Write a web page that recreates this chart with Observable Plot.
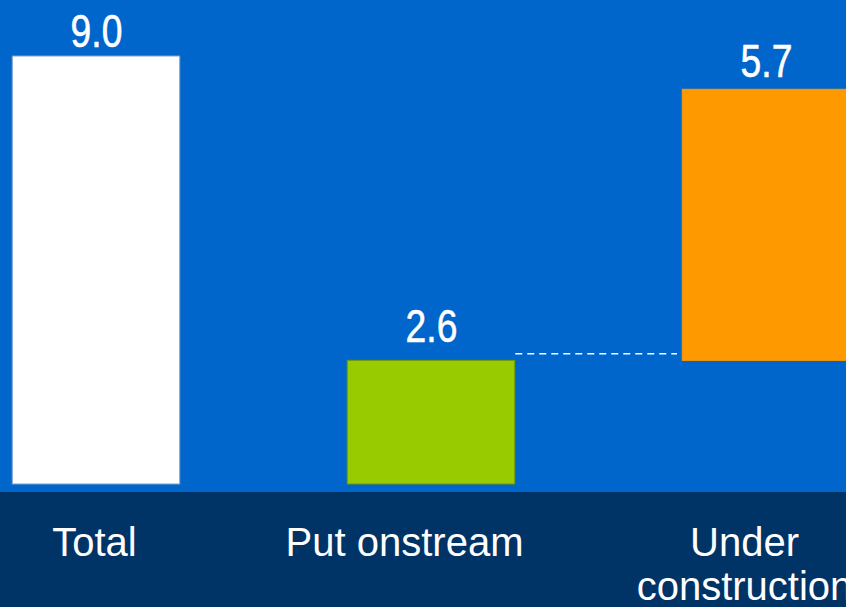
<!DOCTYPE html>
<html>
<head>
<meta charset="utf-8">
<script src="https://cdn.jsdelivr.net/npm/d3@7"></script>
<script src="https://cdn.jsdelivr.net/npm/@observablehq/plot@0.6"></script>
<style>
  html, body { margin: 0; padding: 0; overflow: hidden; background: #0066CC; }
  #chart svg { display: block; }
  #chart text { font-family: "Liberation Sans", Arial, sans-serif !important; }
</style>
</head>
<body>
<div id="chart"></div>
<script>
// ---- data ----
const categories = ["Total", "Put onstream", "Under construction"];
const values = [9.0, 2.6, 5.7];
const bases = [0, 0, 2.6];           // waterfall start of each bar
const valueLabels = ["9.0", "2.6", "5.7"];
const connectorLevel = 2.75;          // dashed connector between bar 2 and bar 3

// ---- styling ----
const fills = ["#FFFFFF", "#99CC00", "#FF9900"];
const strokes = ["#7f9fc9", "#6f9a00", "#FF9900"];

const rows = categories.map((c, i) => ({
  i, category: c, base: bases[i], top: bases[i] + values[i],
  fill: fills[i], stroke: strokes[i], label: valueLabels[i]
}));
const connector = [{from: 1, to: 2, level: connectorLevel}];

const half = 0.25;
// the captions and value labels in the reference are placed slightly irregularly
const captionShift = {"Total": -2, "Put onstream": -27, "Under construction": -22};
const labelLift = {"Total": -10, "Put onstream": -19, "Under construction": -13};

const chart = Plot.plot({
  width: 846,
  height: 607,
  marginTop: 56,
  marginBottom: 123,
  marginLeft: 0,
  marginRight: 0,
  style: {
    background: "linear-gradient(to bottom, #0066CC 0px, #0066CC 492px, #003366 492px, #003366 607px)",
    overflow: "hidden",
    color: "white"
  },
  x: {domain: [-96 / 335, 750 / 335], axis: null},
  y: {domain: [0, 9], axis: null},
  marks: [
    Plot.rectY(rows, {
      x1: d => d.i - half, x2: d => d.i + half,
      y1: "base", y2: "top",
      fill: d => d.fill, stroke: d => d.stroke, strokeWidth: 1
    }),
    Plot.link(connector, {
      x1: d => d.from + half, x2: d => d.to - half - 0.017,
      y1: "level", y2: "level",
      stroke: "white", strokeWidth: 1.5, strokeDasharray: "7,5"
    }),
    ...rows.map(r => Plot.text([r], {
      x: "i", y: "top", text: "label",
      lineAnchor: "bottom", dy: labelLift[r.category],
      fill: "white", stroke: "white", strokeWidth: 0.6,
      fontSize: 46, className: "vlabel"
    })),
    ...rows.map(r => Plot.text([r], {
      x: "i", y: d => 0, text: "category",
      lineAnchor: "top", dy: 40, dx: captionShift[r.category],
      lineWidth: 7, lineHeight: 1.1,
      fill: "white", fontSize: 40
    }))
  ]
});
document.getElementById("chart").appendChild(chart);
// condensed look of the value labels (reference uses a narrow face)
chart.querySelectorAll(".vlabel text").forEach(t => {
  const w = t.getComputedTextLength();
  t.setAttribute("textLength", (w * 0.81).toFixed(1));
  t.setAttribute("lengthAdjust", "spacingAndGlyphs");
});
</script>
</body>
</html>
